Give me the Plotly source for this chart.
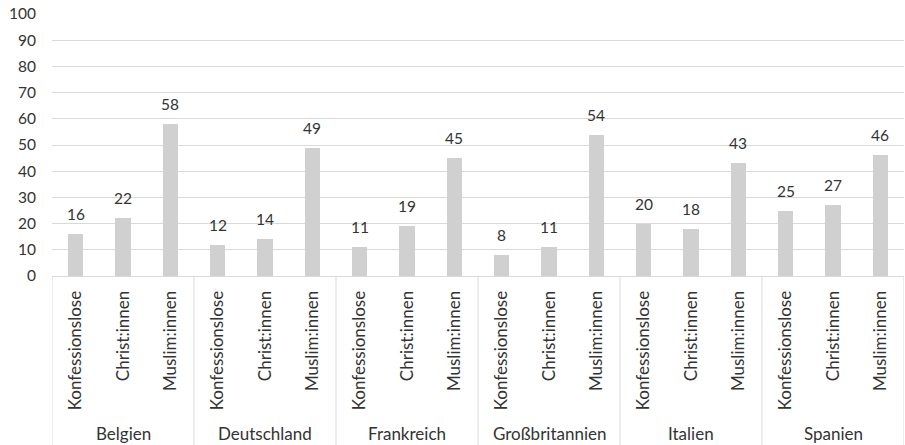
import plotly.graph_objects as go

countries = ["Belgien", "Deutschland", "Frankreich", "Großbritannien", "Italien", "Spanien"]
groups = ["Konfessionslose", "Christ:innen", "Muslim:innen"]
konfessionslose = [16, 12, 11, 8, 20, 25]
christinnen = [22, 14, 19, 11, 18, 27]
musliminnen = [58, 49, 45, 54, 43, 46]
y_ticks = list(range(0, 101, 10))

FONT = "Lato"
TEXT = "#333333"
GRID = "#D9D9D9"
BAR = "#D0D0D0"

values = []
labels = []
for i in range(len(countries)):
    for g, series in zip(groups, [konfessionslose, christinnen, musliminnen]):
        values.append(series[i])
        labels.append(g)
xpos = list(range(len(values)))
n = len(groups)

fig = go.Figure(go.Bar(
    x=xpos, y=values, marker=dict(color=BAR, line=dict(width=0)),
    width=0.32, hoverinfo="x+y",
))

# value labels above each bar
for x, v in zip(xpos, values):
    fig.add_annotation(x=x, y=v, xref="x", yref="y", text=str(v),
                       showarrow=False, yanchor="bottom", yshift=9,
                       font=dict(family=FONT, size=15.5, color=TEXT))

# group separators below the category axis
for k in range(len(countries) + 1):
    fig.add_shape(type="line", xref="x", yref="paper",
                  x0=k * n - 0.5, x1=k * n - 0.5, y0=0, y1=-0.645,
                  line=dict(color=GRID, width=1))
for k, c in enumerate(countries):
    fig.add_annotation(x=k * n + (n - 1) / 2, y=-0.6, xref="x", yref="paper",
                       text=c, showarrow=False, yanchor="middle",
                       font=dict(family=FONT, size=17, color=TEXT))

fig.update_layout(
    width=905, height=445,
    margin=dict(l=52, r=1, t=14, b=169),
    paper_bgcolor="white", plot_bgcolor="white",
    showlegend=False, bargap=0,
    xaxis=dict(range=[-0.5, len(values) - 0.5], tickvals=xpos, ticktext=labels,
               tickangle=-90, showgrid=False, zeroline=False,
               showline=True, linecolor=GRID, linewidth=1,
               ticks="outside", ticklen=7, tickcolor="rgba(0,0,0,0)",
               tickfont=dict(family=FONT, size=17, color=TEXT)),
    yaxis=dict(range=[0, 100], tickvals=y_ticks, showgrid=True,
               gridcolor=GRID, gridwidth=1, zeroline=False, showline=False,
               ticks="outside", ticklen=12, tickcolor="rgba(0,0,0,0)",
               tickfont=dict(family=FONT, size=15.5, color=TEXT)),
)

fig.write_html("out.html")
